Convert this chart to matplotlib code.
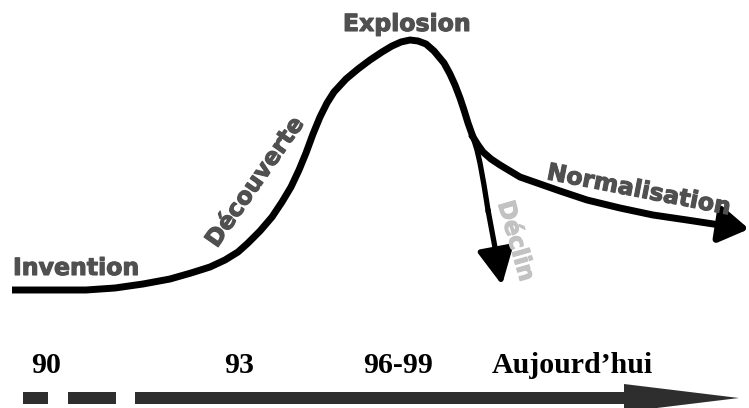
import matplotlib
matplotlib.use("Agg")
import matplotlib.pyplot as plt
import matplotlib.patheffects as pe
from matplotlib.patches import FancyArrow

# ---- data (diagram coordinates: x = time axis, y = level, screen-down units) ----
curve_x = [12, 50, 86, 115, 143, 170, 191, 210, 225, 238, 248, 260, 272, 282, 291,
           299, 306, 313, 320, 327, 334, 346, 358, 370, 382, 392, 401, 410, 418,
           426, 434, 444, 450, 455, 460, 464, 468, 473]
curve_y = [290, 290, 290, 288, 284, 279, 273, 267, 260, 252, 243, 231, 217, 202, 187,
           170, 153, 134, 117, 103, 92, 79, 69, 60, 52, 46, 42, 40, 41,
           44, 51, 63, 74, 85, 98, 110, 123, 137]

decline_x = [473, 477, 480, 484, 488]
decline_y = [137, 150, 163, 185, 210]
decline_tip = (502, 285)

norm_x = [473, 478, 483, 491, 500, 510, 520, 540, 560, 587, 620, 653, 687, 720, 736]
norm_y = [137, 145, 152, 159, 165, 171, 177, 184, 191, 200, 208, 215, 220, 225, 227]
norm_tip = (749, 229)

phase_labels = ["Invention", "Découverte", "Explosion", "Déclin", "Normalisation"]
year_labels = ["90", "93", "96-99", "Aujourd\u2019hui"]
year_pos = [46.5, 239, 398.5, 572]

# ---- figure ----
W, H = 749, 408
fig = plt.figure(figsize=(W / 100, H / 100), dpi=100)
ax = fig.add_axes([0, 0, 1, 1])
ax.set_xlim(0, W)
ax.set_ylim(H, 0)
ax.axis("off")

lw_main = 5.0
ax.plot(curve_x, curve_y, color="black", lw=lw_main, solid_capstyle="butt",
        solid_joinstyle="round")
ax.plot(decline_x, decline_y, color="black", lw=3.8, solid_joinstyle="round")
ax.annotate("", xy=decline_tip, xytext=(decline_x[-1], decline_y[-1]),
            arrowprops=dict(arrowstyle="-|>,head_length=1.0,head_width=0.5",
                            color="black", lw=3.8, mutation_scale=22,
                            shrinkA=0, shrinkB=0))
ax.plot(norm_x, norm_y, color="black", lw=lw_main, solid_joinstyle="round")
ax.annotate("", xy=norm_tip, xytext=(norm_x[-1], norm_y[-1]),
            arrowprops=dict(arrowstyle="-|>,head_length=0.8,head_width=0.5",
                            color="black", lw=lw_main, mutation_scale=22,
                            shrinkA=0, shrinkB=0))

lab_col = "#505050"
light_col = "#c2c2c2"
fs = 17


def heavy(col):
    return [pe.withStroke(linewidth=0.8, foreground=col)]


ax.text(13, 275, phase_labels[0], fontsize=fs, fontweight="heavy", color=lab_col,
        ha="left", va="baseline", family="DejaVu Sans", path_effects=heavy(lab_col))
ax.text(255, 182, phase_labels[1], fontsize=fs, fontweight="heavy", color=lab_col,
        ha="center", va="center", rotation=55, rotation_mode="anchor",
        family="DejaVu Sans", path_effects=heavy(lab_col))
ax.text(407, 31, phase_labels[2], fontsize=fs, fontweight="heavy", color=lab_col,
        ha="center", va="baseline", family="DejaVu Sans", path_effects=heavy(lab_col))
ax.text(516, 241, phase_labels[3], fontsize=fs, fontweight="heavy", color=light_col,
        ha="center", va="center", rotation=-74, rotation_mode="anchor",
        family="DejaVu Sans", path_effects=heavy(light_col))
ax.text(639, 190, phase_labels[4], fontsize=fs, fontweight="heavy", color=lab_col,
        ha="center", va="center", rotation=-11, rotation_mode="anchor",
        family="DejaVu Sans", path_effects=heavy(lab_col))

# ---- time axis ----
for xp, lab in zip(year_pos, year_labels):
    ax.text(xp, 373, lab, fontsize=21.5, fontweight="bold", color="black",
            ha="center", va="baseline", family="Liberation Serif")

bar_col = "#2e2e2e"
bar_lw = 12 * 72 / 100
dash_start = [23, 68]
dash_end = [48, 116]
for x0, x1 in zip(dash_start, dash_end):
    ax.plot([x0, x1], [398, 398], color=bar_col, lw=bar_lw, solid_capstyle="butt")
ax.add_patch(FancyArrow(135, 398, 604, 0, width=12, head_width=28,
                        head_length=115, length_includes_head=True,
                        color=bar_col, lw=0))

fig.savefig("out.png", dpi=100)
